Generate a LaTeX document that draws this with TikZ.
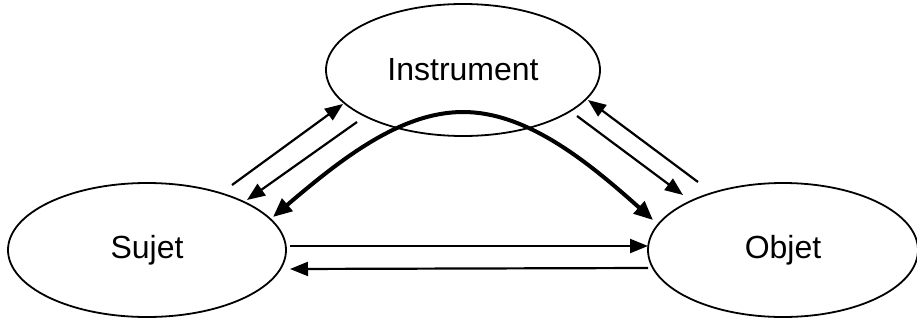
\documentclass[tikz,border=0pt]{standalone}
\usepackage{fontspec}
\setmainfont{Liberation Sans}
\usetikzlibrary{shapes.geometric,arrows.meta}
\begin{document}
\begin{tikzpicture}[x=1pt,y=-1pt,
  oval/.style={draw,ellipse,line width=1.8pt,inner sep=0pt,font=\fontsize{32}{38}\selectfont},
  thinarrow/.style={line width=2.2pt,-{Triangle[length=18pt,width=14pt]}},
  thickarrow/.style={line width=4pt,{Triangle[length=19pt,width=16pt]}-{Triangle[length=19pt,width=16pt]}}]
\useasboundingbox (0,0) rectangle (917,324);
\node[oval,minimum width=274pt,minimum height=132pt] (instr) at (463,70) {Instrument};
\node[oval,minimum width=278pt,minimum height=134pt] (sujet) at (147,250) {Sujet};
\node[oval,minimum width=270pt,minimum height=134pt] (objet) at (783,250) {Objet};
% free ends
\coordinate (a1) at (232,185);
\coordinate (a1t) at (343,104);
\coordinate (a2) at (357,122);
\coordinate (a2t) at (247,200);
\coordinate (b1) at (577,116);
\coordinate (b1t) at (683,195);
\coordinate (b2) at (698,182);
\coordinate (b2t) at (588,100);
\coordinate (c1) at (290,246);
\coordinate (c1t) at (648,246);
\coordinate (c2) at (648,268);
\coordinate (c2t) at (290,269);
\coordinate (ds) at (273,217);
\coordinate (do) at (653,220);
\coordinate (top) at (463,112);
\draw[thinarrow] (a1) -- (a1t);
\draw[thinarrow] (a2) -- (a2t);
\draw[thinarrow] (b1) -- (b1t);
\draw[thinarrow] (b2) -- (b2t);
\draw[thinarrow] (c1) -- (c1t);
\draw[thinarrow] (c2) -- (c2t);
\draw[thickarrow] (ds) .. controls (340,160) and (400,112) .. (top) .. controls (526,112) and (586,160) .. (do);
\end{tikzpicture}
\end{document}
